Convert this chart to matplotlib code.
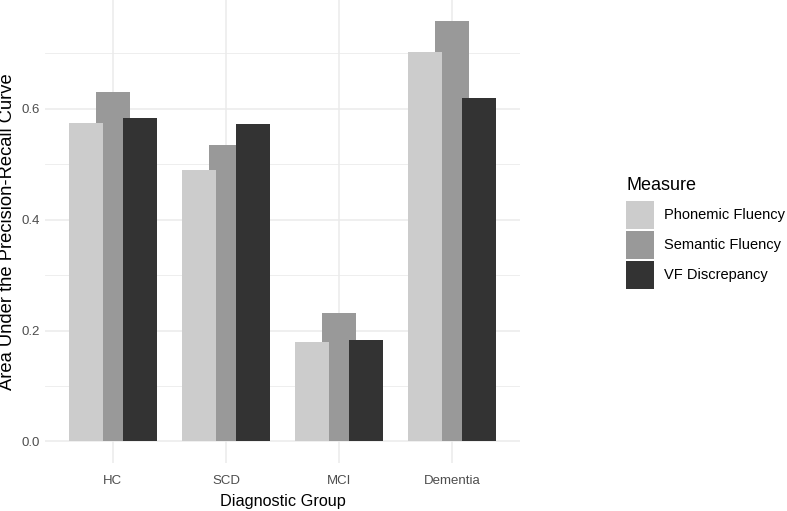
import matplotlib
matplotlib.use("Agg")
import matplotlib.pyplot as plt
from matplotlib.patches import Patch
import numpy as np

plt.rcParams['font.family'] = ['Liberation Sans', 'DejaVu Sans']

groups = ["HC", "SCD", "MCI", "Dementia"]
measures = ["Phonemic Fluency", "Semantic Fluency", "VF Discrepancy"]
phonemic = [0.575, 0.489, 0.179, 0.703]
semantic = [0.631, 0.535, 0.231, 0.758]
vf_discrepancy = [0.584, 0.572, 0.183, 0.620]

colors = ["#cccccc", "#999999", "#333333"]
offsets = [-0.237, 0.0, 0.237]
zorders = [3, 2, 3]

fig = plt.figure(figsize=(7.87, 5.11), dpi=100)
ax = fig.add_axes([45 / 787, 48.5 / 511, 475 / 787, 462.5 / 511])

x = np.arange(1, len(groups) + 1)
for vals, col, off, z in zip([phonemic, semantic, vf_discrepancy], colors, offsets, zorders):
    ax.bar(x + off, vals, width=0.30, color=col, zorder=z, linewidth=0)

ax.set_xlim(0.4, 4.6)
ax.set_ylim(-0.038, 0.796)
ax.set_xticks(x)
ax.set_xticklabels(groups)
ax.set_yticks([0.0, 0.2, 0.4, 0.6])
ax.set_yticklabels(["0.0", "0.2", "0.4", "0.6"])
ax.set_yticks([0.1, 0.3, 0.5, 0.7], minor=True)

ax.grid(which="major", color="#ebebeb", linewidth=1.1, zorder=0)
ax.grid(which="minor", axis="y", color="#ebebeb", linewidth=0.6, zorder=0)
ax.set_axisbelow(True)
for s in ax.spines.values():
    s.set_visible(False)
ax.tick_params(axis="both", which="both", length=0, labelsize=9.5, labelcolor="#4d4d4d")
ax.tick_params(axis="x", pad=9.3)
ax.tick_params(axis="y", pad=4)

ax.set_xlabel("Diagnostic Group", fontsize=11.7, labelpad=5)
ax.set_ylabel("Area Under the Precision-Recall Curve", fontsize=13.2, labelpad=4)

# legend title drawn separately so the gap to the keys can be set
fig.text(627 / 787, 1 - 185 / 511, "Measure", fontsize=13, va="center", ha="left")
handles = [Patch(facecolor=c, edgecolor="none") for c in colors]
leg = fig.legend(handles, measures, loc="upper left", bbox_to_anchor=(626 / 787, 1 - 201 / 511),
                 frameon=False, fontsize=10.5, borderpad=0,
                 handlelength=1.92, handleheight=2.58, labelspacing=0.12,
                 handletextpad=0.69, borderaxespad=0)

fig.savefig("out.png", dpi=100)
